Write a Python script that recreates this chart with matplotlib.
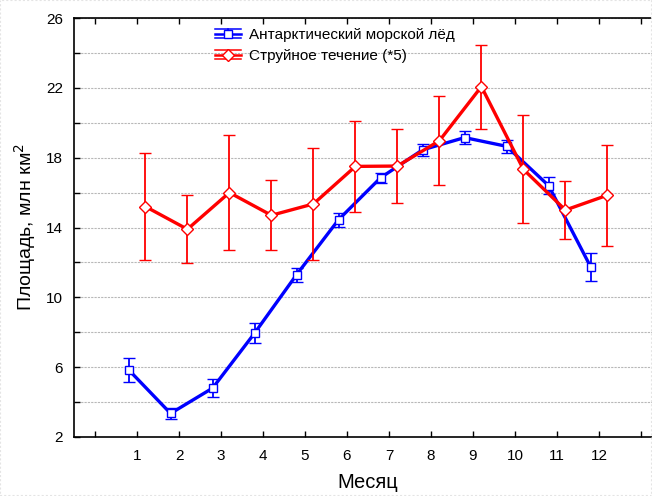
import matplotlib
matplotlib.use("Agg")
import matplotlib.pyplot as plt
import numpy as np
from matplotlib.legend_handler import HandlerBase
from matplotlib.lines import Line2D
from matplotlib.patches import Rectangle

plt.rcParams['font.family'] = ['Liberation Sans', 'DejaVu Sans']

months = [1, 2, 3, 4, 5, 6, 7, 8, 9, 10, 11, 12]
ice_mean = [5.85, 3.35, 4.8, 7.95, 11.3, 14.45, 16.85, 18.45, 19.15, 18.65, 16.4, 11.75]
ice_err = [0.7, 0.3, 0.5, 0.57, 0.4, 0.4, 0.3, 0.33, 0.38, 0.38, 0.5, 0.8]
jet_mean = [15.2, 13.9, 16.0, 14.7, 15.35, 17.5, 17.52, 18.97, 22.07, 17.33, 15.0, 15.85]
jet_err = [3.07, 1.95, 3.3, 2.0, 3.2, 2.6, 2.1, 2.55, 2.4, 3.1, 1.65, 2.9]
ice_label = "Антарктический морской лёд"
jet_label = "Струйное течение (*5)"
xlabel = "Месяц"
ylabel = "Площадь, млн км$^2$"

BLUE = "#0000ff"
RED = "#ff0000"

W, H = 652, 496
fig = plt.figure(figsize=(W / 100, H / 100), dpi=100)
ax = fig.add_axes([74 / W, 59 / H, 588 / W, 419 / H])

x = np.array(months, dtype=float)
shift = 0.2
ax.errorbar(x - shift, ice_mean, yerr=ice_err, color=BLUE, lw=2.4,
            marker='s', ms=6, mfc='white', mec=BLUE, mew=1.0,
            ecolor=BLUE, elinewidth=1.3, capsize=4, capthick=1.3, zorder=3)
ax.errorbar(x + shift, jet_mean, yerr=jet_err, color=RED, lw=2.4,
            marker='D', ms=6, mfc='white', mec=RED, mew=1.0,
            ecolor=RED, elinewidth=1.3, capsize=4.5, capthick=1.3, zorder=4)

ax.set_xlim(-0.5, 13.5)
ax.set_ylim(2, 26)
ax.set_xticks(range(0, 14))
ax.set_xticklabels([str(m) if 1 <= m <= 12 else "" for m in range(0, 14)])
ax.set_yticks(np.arange(2, 27, 2))
ax.set_yticklabels([str(v) if (v - 2) % 4 == 0 else "" for v in range(2, 27, 2)])
ax.tick_params(axis='x', direction='in', top=True, bottom=True, length=4, width=1.0,
               labelsize=11, pad=9)
ax.tick_params(axis='y', direction='in', left=True, right=False, length=4, width=1.0,
               labelsize=11, pad=8)
ax.spines['right'].set_visible(False)
for s in ['left', 'top', 'bottom']:
    ax.spines[s].set_linewidth(1.2)
ax.yaxis.grid(True, linestyle=(0, (2, 1)), color='#b8b8b8', lw=0.8)
ax.set_axisbelow(True)
ax.set_xlabel(xlabel, fontsize=14.5, labelpad=7)
ax.set_ylabel(ylabel, fontsize=14, labelpad=6)


class ErrHandler(HandlerBase):
    def __init__(self, color, marker):
        super().__init__()
        self.color = color
        self.marker = marker

    def create_artists(self, legend, orig_handle, xdescent, ydescent, width, height,
                       fontsize, trans):
        yc = height / 2 - ydescent
        off = 4.8 * 72 / 100
        x0, x1 = -xdescent, -xdescent + width
        xm = (x0 + x1) / 2
        arts = [
            Line2D([x0, x1], [yc + off, yc + off], color=self.color, lw=1.1),
            Line2D([x0, x1], [yc - off, yc - off], color=self.color, lw=1.1),
            Line2D([xm, xm], [yc - off, yc + off], color=self.color, lw=1.1),
            Line2D([x0, x1], [yc, yc], color=self.color, lw=1.8),
            Line2D([xm], [yc], marker=self.marker, ms=6, mfc='white', mec=self.color,
                   mew=1.0, color=self.color),
        ]
        for a in arts:
            a.set_transform(trans)
        return arts


h1 = Line2D([], [], color=BLUE)
h2 = Line2D([], [], color=RED)
fig.legend([h1, h2], [ice_label, jet_label],
           handler_map={h1: ErrHandler(BLUE, 's'), h2: ErrHandler(RED, 'D')},
           loc='upper left', bbox_to_anchor=(215 / W, 1 - 28 / H),
           frameon=False, fontsize=11, handlelength=1.7, handletextpad=0.5,
           labelspacing=0.45, borderpad=0, borderaxespad=0)

fig.patches.append(Rectangle((0, 0), 1, 1, transform=fig.transFigure, fill=False,
                             ec='#e4e4e4', lw=1.5, ls=(0, (1, 1))))

fig.savefig("out.png", dpi=100)
